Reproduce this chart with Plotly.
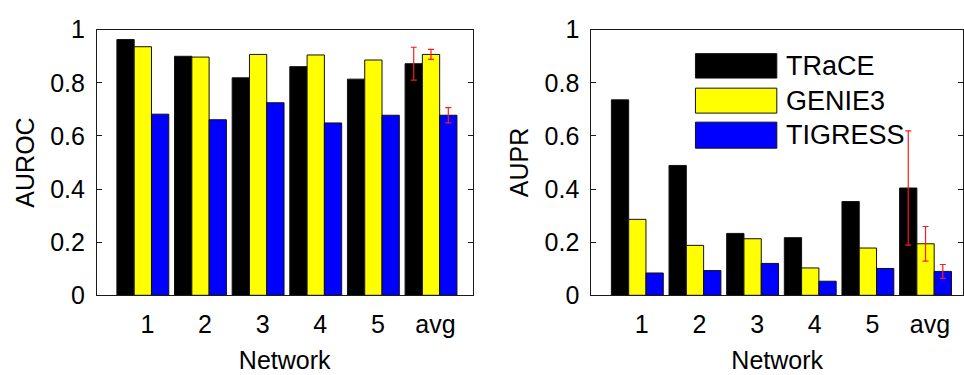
import plotly.graph_objects as go

categories = ["1", "2", "3", "4", "5", "avg"]
methods = ["TRaCE", "GENIE3", "TIGRESS"]
colors = ["#000000", "#ffff00", "#0000ff"]

auroc_trace = [0.963, 0.900, 0.819, 0.861, 0.814, 0.872]
auroc_genie3 = [0.936, 0.897, 0.907, 0.905, 0.886, 0.907]
auroc_tigress = [0.682, 0.661, 0.725, 0.649, 0.678, 0.678]
auroc_err = [0.062, 0.019, 0.029]  # error on avg bars

aupr_trace = [0.736, 0.489, 0.233, 0.217, 0.353, 0.404]
aupr_genie3 = [0.286, 0.188, 0.213, 0.103, 0.178, 0.194]
aupr_tigress = [0.084, 0.093, 0.120, 0.053, 0.101, 0.090]
aupr_err = [0.215, 0.065, 0.026]

yticks = [0, 0.2, 0.4, 0.6, 0.8, 1]

W, H = 964, 375
FONT = "Liberation Sans, Arial, sans-serif"
FS = 25
LINE = "#1a1a1a"

pos = list(range(1, len(categories) + 1))
label_pos = [p + 0.078 for p in pos]
tick_pos = [p + 0.2 for p in pos]

fig = go.Figure()

def add_group(series, errs, xa, ya):
    for i, (vals, col) in enumerate(zip(series, colors)):
        marker = dict(color=col, line=dict(color="#111", width=1))
        # individual networks
        fig.add_trace(go.Bar(
            x=pos[:-1], y=vals[:-1], name=methods[i], marker=marker,
            offsetgroup=str(i), xaxis=xa, yaxis=ya, showlegend=False,
        ))
        # average with error bar
        fig.add_trace(go.Bar(
            x=pos[-1:], y=vals[-1:], name=methods[i], marker=marker,
            offsetgroup=str(i), xaxis=xa, yaxis=ya, showlegend=False,
            error_y=dict(type="data", array=[errs[i]], visible=True,
                         color="#ff1a1a", thickness=1.2, width=3),
        ))

add_group([auroc_trace, auroc_genie3, auroc_tigress], auroc_err, "x", "y")
add_group([aupr_trace, aupr_genie3, aupr_tigress], aupr_err, "x2", "y2")

top = 17
bottom = 304
ydom = [1 - bottom / H, 1 - top / H]
left_dom = [97 / W, 473 / W]
right_dom = [592 / W, 1.0]

common_x = dict(
    tickmode="array", tickvals=label_pos, ticktext=categories, ticks="",
    showline=True, linecolor=LINE, linewidth=1, mirror=True, showgrid=False, zeroline=False,
    tickfont=dict(family=FONT, size=FS, color="#000"), ticklabelstandoff=7,
    title=dict(text="Network", font=dict(family=FONT, size=FS, color="#000"), standoff=14),
)
common_y = dict(
    range=[0, 1], tickmode="array", tickvals=yticks, ticktext=["0", "0.2", "0.4", "0.6", "0.8", "1"],
    ticks="inside", ticklen=5, tickcolor=LINE, showline=True, linecolor=LINE, linewidth=1,
    mirror="ticks", showgrid=False, zeroline=False,
    tickfont=dict(family=FONT, size=FS, color="#000"), ticklabelstandoff=6,
)
top_ticks = dict(
    tickmode="array", tickvals=tick_pos, ticks="inside", ticklen=5, tickcolor=LINE,
    showticklabels=False, showline=False, showgrid=False, zeroline=False, side="top",
)

fig.update_layout(
    width=W, height=H, margin=dict(l=0, r=0, t=0, b=0),
    paper_bgcolor="white", plot_bgcolor="white",
    barmode="group", bargap=0.1, bargroupgap=0,
    xaxis=dict(domain=left_dom, range=[0.203, 6.72], anchor="y", **common_x),
    yaxis=dict(domain=ydom, anchor="x",
               title=dict(text="AUROC", font=dict(family=FONT, size=FS, color="#000"), standoff=8),
               **common_y),
    xaxis2=dict(domain=right_dom, range=[0.203, 6.65], anchor="y2", **common_x),
    yaxis2=dict(domain=ydom, anchor="x2",
                title=dict(text="AUPR", font=dict(family=FONT, size=FS, color="#000"), standoff=8),
                **common_y),
    xaxis3=dict(overlaying="x", range=[0.203, 6.72], anchor="y", **top_ticks),
    xaxis4=dict(overlaying="x2", range=[0.203, 6.65], anchor="y2", **top_ticks),
)

# custom legend (large patches, as in the original)
leg_y = [(0.910, 0.818, 0.864), (0.780, 0.686, 0.733), (0.652, 0.554, 0.603)]
for (y1, y0, yc), col, name in zip(leg_y, colors, methods):
    fig.add_shape(type="rect", xref="x2 domain", yref="y2 domain",
                  x0=0.280, x1=0.499, y0=y0, y1=y1,
                  fillcolor=col, line=dict(color="#111", width=1))
    fig.add_annotation(xref="x2 domain", yref="y2 domain", x=0.518, y=yc,
                       text=name, showarrow=False, xanchor="left", yanchor="middle",
                       font=dict(family=FONT, size=27, color="#000"))

fig.write_html("out.html")
